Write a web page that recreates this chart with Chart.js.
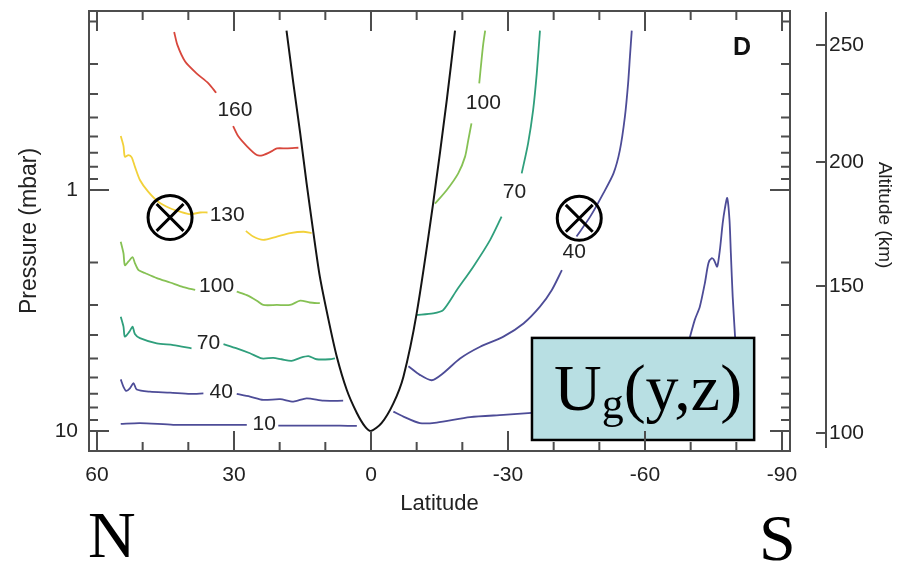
<!DOCTYPE html>
<html>
<head>
<meta charset="utf-8">
<script src="https://cdn.jsdelivr.net/npm/chart.js@4.4.1/dist/chart.umd.min.js"></script>
<style>
  html, body { margin: 0; padding: 0; background: #fff; }
</style>
</head>
<body>
<canvas id="myChart" width="911" height="564"></canvas>
<script>
/* datos: latitud (grados) y presion (mbar) */

// limite negro (parabola)
const edgeLat = [18.5, 17.0, 15.5, 14.1, 12.6, 11.2, 9.3, 7.5, 5.3, 3.1, 1.3, 0, -2.3, -4.9, -7.1, -10.0, -13.6, -16.6, -18.4]
const edgeP   = [0.218, 0.361, 0.582, 0.938, 1.51, 2.29, 3.46, 4.91, 6.76, 8.42, 9.59, 10, 9.28, 7.68, 5.95, 3.25, 1.14, 0.423, 0.218]

// contornos lado norte (null = hueco de la etiqueta)
const c160Lat = [43.1, 42.4, 40.7, 38.2, 35.6, 33.9, 32, 30.2, 29.1, 27.2, 25.0, 23.6, 21.7, 20.6, 18.5, 15.9]
const c160P   = [0.221, 0.250, 0.293, 0.328, 0.361, 0.395, null, 0.543, 0.597, 0.657, 0.716, 0.716, 0.690, 0.672, 0.672, 0.668]

const c130Lat = [54.8, 54.2, 53.9, 53.1, 52.4, 51.7, 50.6, 48.8, 46.6, 44.0, 41.8, 39.6, 37.4, 35.8, 32, 27.4, 25.8, 23.6, 20.6, 17.7, 14.8, 13.0]
const c130P   = [0.597, 0.657, 0.727, 0.716, 0.732, 0.800, 0.909, 1.016, 1.118, 1.19, 1.23, 1.26, 1.24, 1.24, null, 1.48, 1.56, 1.61, 1.56, 1.51, 1.49, 1.51]

const c100nLat = [54.8, 54.2, 53.9, 53.1, 52.2, 51.7, 50.9, 49.5, 46.9, 44.0, 41.1, 38.5, 34, 29.4, 27.2, 25.0, 23.6, 20.6, 17.7, 15.5, 13.4, 11.2]
const c100nP   = [1.64, 1.83, 2.05, 1.98, 1.90, 2.01, 2.15, 2.21, 2.32, 2.42, 2.53, 2.60, null, 2.64, 2.73, 2.88, 3.00, 3.00, 3.00, 2.88, 2.93, 2.95]

const c70nLat = [54.8, 54.2, 53.9, 52.9, 52.2, 51.7, 50.6, 46.9, 43.3, 39.3, 35.6, 32.3, 29.4, 26.5, 23.9, 21.4, 19.6, 17.4, 15.5, 13.7, 11.9, 9.0, 7.9]
const c70nP   = [3.36, 3.69, 4.06, 3.87, 3.69, 3.96, 4.12, 4.33, 4.40, 4.54, null, 4.36, 4.54, 4.76, 5.00, 4.97, 5.04, 5.12, 4.97, 4.89, 5.04, 5.04, 5.00]

const c40nLat = [54.8, 54.2, 53.6, 52.8, 52.0, 51.3, 48.4, 44.0, 39.6, 36.7, 33, 29.4, 26.5, 23.6, 19.9, 17.0, 14.1, 10.4, 6.1]
const c40nP   = [6.11, 6.56, 6.82, 6.66, 6.33, 6.73, 6.87, 6.93, 7.02, 6.98, null, 7.02, 7.20, 7.43, 7.38, 7.55, 7.32, 7.49, 7.49]

const c10nLat = [54.8, 50.6, 43.3, 36.0, 27.2, 23.4, 20.3, 14.1, 6.8, 3.1]
const c10nP   = [9.35, 9.27, 9.43, 9.43, 9.43, null, 9.50, 9.50, 9.50, 9.53]

// contornos lado sur
const c100sLat = [-14.0, -16.6, -19.1, -20.6, -21.3, -22.0, -23, -23.7, -24.2, -24.6, -25.0]
const c100sP   = [1.14, 1.00, 0.853, 0.727, 0.621, 0.529, null, 0.361, 0.289, 0.246, 0.218]

const c70sLat = [-10.0, -13.6, -15.8, -18.8, -22.4, -26.1, -28.6, -31.5, -33.0, -34.4, -35.5, -36.3, -37.0]
const c70sP   = [3.30, 3.25, 3.15, 2.60, 2.08, 1.61, 1.29, null, 0.853, 0.640, 0.466, 0.328, 0.218]

const c40sLat = [-8.2, -10.7, -13.3, -15.8, -19.5, -23.9, -29.0, -33.4, -37.0, -39.6, -41.8, -44.3, -45.0, -48.0, -50.9, -53.1, -54.5, -55.6, -56.3, -56.7, -57.1]
const c40sP   = [5.39, 5.85, 6.16, 5.76, 5.00, 4.47, 4.06, 3.58, 3.05, 2.60, 2.15, null, 1.56, 1.29, 1.03, 0.853, 0.683, 0.496, 0.361, 0.280, 0.218]

const c10sLat = [-4.9, -7.1, -10.7, -14.4, -21.7, -29.0, -35.2, -37]
const c10sP   = [8.31, 8.72, 9.28, 9.23, 8.76, 8.58, 8.42, 8.40]

const spikeLat = [-69.5, -70.9, -72.0, -73.1, -73.9, -74.6, -75.1, -75.8, -76.4, -77.0, -77.5, -78.0, -78.5, -78.8, -79.2, -79.8]
const spikeP   = [4.3, 3.46, 3.05, 2.44, 2.01, 1.92, 1.95, 2.08, 1.77, 1.38, 1.19, 1.08, 1.33, 1.83, 2.77, 4.3]

// etiquetas de los contornos
const labelText = ['160', '130', '100', '70', '40', '10', '100', '70', '40']
const labelLat  = [29.8, 31.5, 33.8, 35.6, 32.8, 23.4, -24.6, -31.4, -44.5]
const labelP    = [0.466, 1.27, 2.50, 4.33, 6.92, 9.36, 0.437, 1.02, 1.82]

// simbolos de flujo entrante
const markLat = [44.0, -45.6]
const markP   = [1.30, 1.31]

// ejes
const latTicks = [60, 30, 0, -30, -60, -90]
const latMinor = [50, 40, 20, 10, -10, -20, -40, -50, -70, -80]
const pTicks = [1, 10]
const pMinor = [0.2, 0.3, 0.4, 0.5, 0.6, 0.7, 0.8, 0.9, 2, 3, 4, 5, 6, 7, 8, 9]
const altLabels = [100, 150, 200, 250]
const altP = [10.2, 2.50, 0.765, 0.250]

// recuadro Ug(y,z)
const boxLat = [-35.25, -83.9]
const boxP = [4.11, 10.9]

const FONT = "'Liberation Sans', Arial, Helvetica, sans-serif"
const SERIF = "'Liberation Serif', 'Times New Roman', serif"
Chart.defaults.font.family = FONT
Chart.defaults.color = '#222'

function pts(lats, ps) {
  return lats.map((v, i) => ({ x: v, y: ps[i] }))
}

function curve(lats, ps, color, width) {
  return {
    data: pts(lats, ps),
    borderColor: color,
    borderWidth: width || 1.8,
    pointRadius: 0,
    tension: 0.25,
    spanGaps: false,
    fill: false,
    order: 5
  }
}

const RED = '#d8473c'
const YEL = '#f2d13a'
const GRN = '#86c154'
const TEAL = '#2f9f7c'
const BLUE = '#4d4c97'

// sin relleno vertical extra en los ejes verticales
function fixWidth(w) {
  return s => { s.width = w; s.paddingTop = 0; s.paddingBottom = 0 }
}

const decor = {
  id: 'decor',
  beforeDraw(chart) {
    const c = chart.ctx
    c.save()
    c.fillStyle = '#fff'
    c.fillRect(0, 0, chart.width, chart.height)
    c.restore()
  },
  afterDatasetsDraw(chart) {
    const c = chart.ctx
    const { x, y } = chart.scales
    c.save()
    // etiquetas
    c.fillStyle = '#222'
    c.font = '21px ' + FONT
    c.textAlign = 'center'
    c.textBaseline = 'middle'
    labelText.forEach((t, i) => {
      c.fillText(t, x.getPixelForValue(labelLat[i]), y.getPixelForValue(labelP[i]))
    })
    // recuadro
    const bx0 = x.getPixelForValue(boxLat[0])
    const bx1 = x.getPixelForValue(boxLat[1])
    const by0 = y.getPixelForValue(boxP[0])
    const by1 = y.getPixelForValue(boxP[1])
    c.fillStyle = '#b8dfe3'
    c.fillRect(bx0, by0, bx1 - bx0, by1 - by0)
    c.strokeStyle = '#000'
    c.lineWidth = 2.5
    c.strokeRect(bx0, by0, bx1 - bx0, by1 - by0)
    c.fillStyle = '#000'
    c.textAlign = 'left'
    c.textBaseline = 'alphabetic'
    let tx = bx0 + 22
    c.font = '66px ' + SERIF
    c.fillText('U', tx, by0 + 72)
    tx += c.measureText('U').width
    c.font = '44px ' + SERIF
    c.fillText('g', tx, by0 + 80)
    tx += c.measureText('g').width
    c.font = '66px ' + SERIF
    c.fillText('(y,z)', tx, by0 + 72)
    c.restore()
  },
  afterDraw(chart) {
    const c = chart.ctx
    const a = chart.chartArea
    const { x, y, alt } = chart.scales
    c.save()
    c.strokeStyle = '#4d4d4d'
    c.lineWidth = 2
    c.strokeRect(a.left, a.top, a.right - a.left, a.bottom - a.top)
    c.beginPath()
    const tickX = (v, len) => {
      const px = x.getPixelForValue(v)
      c.moveTo(px, a.bottom); c.lineTo(px, a.bottom - len)
      c.moveTo(px, a.top); c.lineTo(px, a.top + len)
    }
    const tickY = (v, len) => {
      const py = y.getPixelForValue(v)
      c.moveTo(a.left, py); c.lineTo(a.left + len, py)
      c.moveTo(a.right, py); c.lineTo(a.right - len, py)
    }
    latTicks.forEach(v => tickX(v, 20))
    latMinor.forEach(v => tickX(v, 9))
    pTicks.forEach(v => tickY(v, 20))
    pMinor.forEach(v => tickY(v, 9))
    // eje de altitud
    const ax = a.right + 36
    c.moveTo(ax, a.top + 1)
    c.lineTo(ax, a.bottom - 3)
    altP.forEach(v => {
      const py = alt.getPixelForValue(v)
      c.moveTo(ax - 10, py); c.lineTo(ax, py)
    })
    c.stroke()
    // titulo del eje de altitud
    c.fillStyle = '#222'
    c.font = '19px ' + FONT
    c.textAlign = 'center'
    c.textBaseline = 'middle'
    c.translate(884, 215)
    c.rotate(Math.PI / 2)
    c.fillText('Altitude (km)', 0, 0)
    c.setTransform(1, 0, 0, 1, 0, 0)
    // letras
    c.fillStyle = '#111'
    c.font = 'bold 25px ' + FONT
    c.textAlign = 'left'
    c.textBaseline = 'alphabetic'
    c.fillText('D', a.right - 57, a.top + 44)
    c.fillStyle = '#000'
    c.font = '66px ' + SERIF
    c.fillText('N', 88, 557)
    c.fillText('S', 759, 560)
    c.restore()
  }
}

const ctx = document.getElementById('myChart')
const yMin = 0.1808
const yMax = 12.11

const myChart = new Chart(ctx, {
  type: 'line',
  data: {
    datasets: [
      {
        data: pts(markLat, markP),
        showLine: false,
        pointStyle: 'circle',
        pointRadius: 22,
        pointBorderWidth: 3,
        pointBorderColor: '#000',
        pointBackgroundColor: 'rgba(0,0,0,0)',
        order: 1
      },
      {
        data: pts(markLat, markP),
        showLine: false,
        pointStyle: 'crossRot',
        pointRadius: 19,
        pointBorderWidth: 3,
        pointBorderColor: '#000',
        order: 1
      },
      curve(edgeLat, edgeP, '#141414', 2),
      curve(c160Lat, c160P, RED),
      curve(c130Lat, c130P, YEL),
      curve(c100nLat, c100nP, GRN),
      curve(c70nLat, c70nP, TEAL),
      curve(c40nLat, c40nP, BLUE),
      curve(c10nLat, c10nP, BLUE),
      curve(c100sLat, c100sP, GRN),
      curve(c70sLat, c70sP, TEAL),
      curve(c40sLat, c40sP, BLUE),
      curve(c10sLat, c10sP, BLUE),
      curve(spikeLat, spikeP, BLUE)
    ]
  },
  options: {
    responsive: false,
    animation: false,
    events: [],
    layout: { autoPadding: false, padding: { left: 0, right: 0, top: 11, bottom: 43 } },
    plugins: {
      legend: { display: false },
      tooltip: { enabled: false }
    },
    scales: {
      x: {
        type: 'linear',
        reverse: true,
        min: -91.75,
        max: 61.75,
        grid: { display: false, drawTicks: false },
        border: { display: false },
        afterBuildTicks: s => { s.ticks = latTicks.map(v => ({ value: v })) },
        afterFit: s => { s.height = 70; s.paddingLeft = 0; s.paddingRight = 0 },
        ticks: {
          autoSkip: false,
          maxRotation: 0,
          padding: 12,
          color: '#222',
          font: { size: 21 },
          callback: v => String(v)
        },
        title: {
          display: true,
          text: 'Latitude',
          color: '#222',
          font: { size: 22 },
          padding: { top: 0, bottom: 4 }
        }
      },
      y: {
        type: 'logarithmic',
        position: 'left',
        reverse: true,
        min: yMin,
        max: yMax,
        grid: { display: false, drawTicks: false },
        border: { display: false },
        afterBuildTicks: s => { s.ticks = pTicks.map(v => ({ value: v })) },
        afterFit: fixWidth(89),
        ticks: {
          autoSkip: false,
          padding: 11,
          color: '#222',
          font: { size: 21 },
          callback: v => String(v)
        },
        title: {
          display: true,
          text: 'Pressure (mbar)',
          color: '#222',
          font: { size: 23 },
          padding: { top: 16, bottom: 0 }
        }
      },
      alt: {
        type: 'logarithmic',
        position: 'right',
        reverse: true,
        min: yMin,
        max: yMax,
        grid: { display: false, drawTicks: false },
        border: { display: false },
        afterBuildTicks: s => { s.ticks = altP.map(v => ({ value: v })) },
        afterFit: fixWidth(121),
        ticks: {
          autoSkip: false,
          padding: 39,
          color: '#222',
          font: { size: 21 },
          callback: (v, i) => String(altLabels[i])
        },
        title: { display: false }
      }
    }
  },
  plugins: [decor]
})
</script>
</body>
</html>
